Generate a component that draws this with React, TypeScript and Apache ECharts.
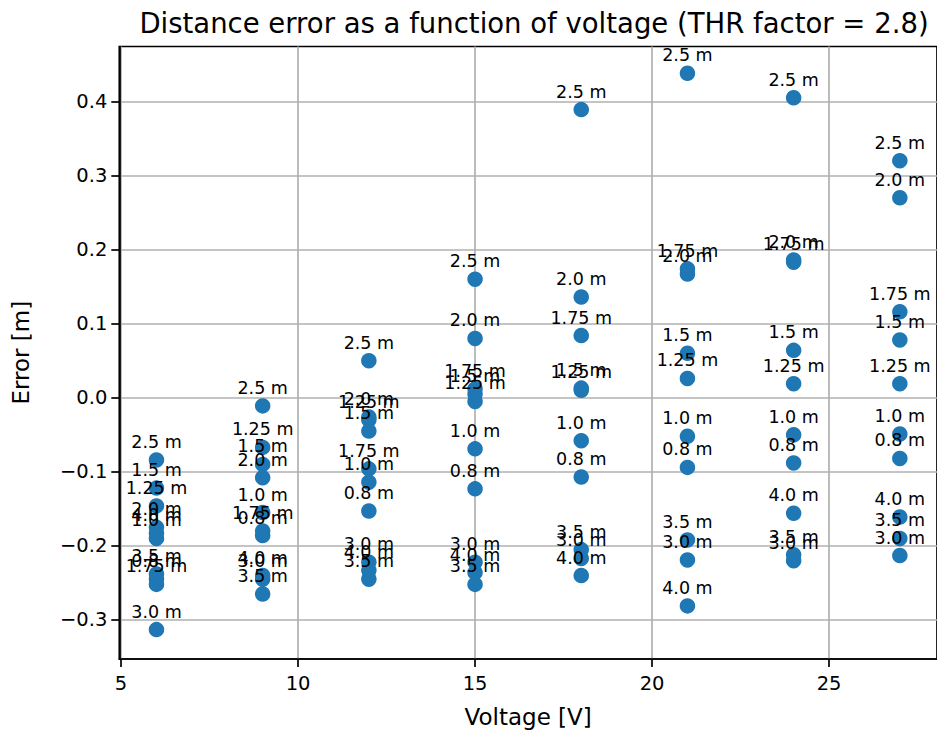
import React, { useEffect, useRef } from "react";
import * as echarts from "echarts";

const voltages = [6, 9, 12, 15, 18, 21, 24, 27];
const distances = ["0.8", "1.0", "1.25", "1.5", "1.75", "2.0", "2.5", "3.0", "3.5", "4.0"];

// errors per voltage, in the order of `distances`
const errors6V = [-0.245, -0.19, -0.146, -0.122, -0.252, -0.175, -0.084, -0.313, -0.238, -0.183];
const errors9V = [-0.186, -0.155, -0.067, -0.09, -0.18, -0.108, -0.011, -0.245, -0.265, -0.24];
const errors12V = [-0.153, -0.114, -0.03, -0.045, -0.096, -0.026, 0.05, -0.222, -0.245, -0.233];
const errors15V = [-0.123, -0.069, -0.005, 0.005, 0.012, 0.08, 0.16, -0.222, -0.252, -0.236];
const errors18V = [-0.107, -0.058, 0.01, 0.013, 0.084, 0.136, 0.389, -0.217, -0.205, -0.24];
const errors21V = [-0.094, -0.052, 0.026, 0.06, 0.174, 0.167, 0.438, -0.219, -0.192, -0.281];
const errors24V = [-0.088, -0.05, 0.019, 0.064, 0.183, 0.186, 0.405, -0.22, -0.212, -0.156];
const errors27V = [-0.082, -0.049, 0.019, 0.078, 0.116, 0.27, 0.32, -0.213, -0.19, -0.161];

const errorsByVoltage = [errors6V, errors9V, errors12V, errors15V, errors18V, errors21V, errors24V, errors27V];

const xTicks = [5, 10, 15, 20, 25];
const yTicks = [-0.3, -0.2, -0.1, 0.0, 0.1, 0.2, 0.3, 0.4];

const titleText = "Distance error as a function of voltage (THR factor = 2.8)";

const FONT = "DejaVu Sans";

export default function App() {
  const ref = useRef<HTMLDivElement>(null);
  useEffect(() => {
    if (!ref.current) return;
    const chart = echarts.init(ref.current, undefined, { renderer: "svg" });
    const data: any[] = [];
    voltages.forEach((v, i) => {
      errorsByVoltage[i].forEach((e, j) => {
        data.push([v, e, distances[j] + " m"]);
      });
    });
    const fmtY = (v: number) => (v < -1e-9 ? "\u2212" : "") + Math.abs(v).toFixed(1);
    chart.setOption({
      animation: false,
      backgroundColor: "#ffffff",
      title: {
        text: titleText,
        left: 529,
        top: 4,
        textAlign: "center",
        textStyle: { fontFamily: FONT, fontSize: 27.5, fontWeight: "normal", color: "#000" },
      },
      grid: {
        left: 119.3,
        top: 46.5,
        width: 822,
        height: 614.5,
        show: true,
        borderColor: "#000",
        borderWidth: 1.7,
        backgroundColor: "transparent",
      },
      xAxis: {
        type: "value",
        min: 4.95,
        max: 28.05,
        name: "Voltage [V]",
        nameLocation: "middle",
        nameGap: 46,
        nameTextStyle: { fontFamily: FONT, fontSize: 23, color: "#000" },
        axisLine: { show: true, onZero: false, lineStyle: { color: "#000", width: 1.7 } },
        axisTick: { show: true, length: 8, lineStyle: { color: "#000", width: 1.7 }, customValues: xTicks },
        axisLabel: {
          customValues: xTicks,
          margin: 14,
          fontFamily: FONT,
          fontSize: 19.5,
          color: "#000",
          formatter: (v: number) => String(v),
        },
        splitLine: { show: true, lineStyle: { color: "#b0b0b0", width: 1.7 } },
      },
      yAxis: {
        type: "value",
        min: -0.3527,
        max: 0.4742,
        name: "Error [m]",
        nameLocation: "middle",
        nameGap: 87,
        nameTextStyle: { fontFamily: FONT, fontSize: 23, color: "#000" },
        axisLine: { show: true, onZero: false, lineStyle: { color: "#000", width: 1.7 } },
        axisTick: { show: true, length: 8, lineStyle: { color: "#000", width: 1.7 }, customValues: yTicks },
        axisLabel: {
          customValues: yTicks,
          margin: 12,
          fontFamily: FONT,
          fontSize: 19.5,
          color: "#000",
          formatter: fmtY,
        },
        splitLine: { show: true, lineStyle: { color: "#b0b0b0", width: 1.7 } },
      },
      series: [
        {
          type: "scatter",
          data,
          symbol: "circle",
          symbolSize: 15.5,
          itemStyle: { color: "#1f77b4", opacity: 1 },
          label: {
            show: true,
            position: "inside",
            offset: [0, -18],
            align: "center",
            verticalAlign: "middle",
            formatter: (p: any) => p.data[2],
            fontFamily: FONT,
            fontSize: 17.5,
            color: "#000",
          },
          emphasis: { disabled: true },
        },
      ],
    });
    return () => chart.dispose();
  }, []);
  return (
    <div
      ref={ref}
      style={{ position: "absolute", left: 0, top: 0, width: 937, height: 733 }}
    />
  );
}
